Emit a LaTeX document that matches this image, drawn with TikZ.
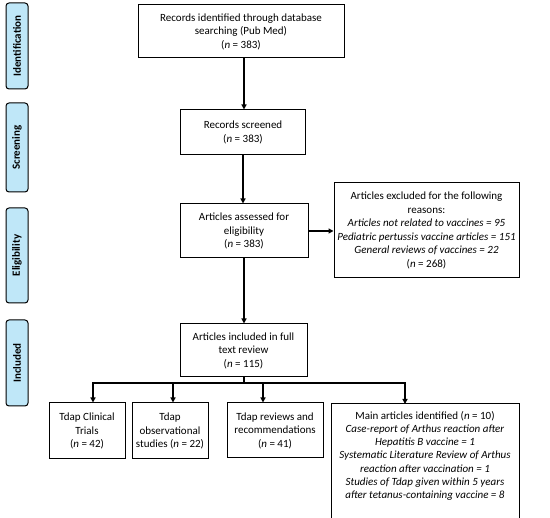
\documentclass[tikz,border=0pt]{standalone}
\usepackage{fontspec}
\setmainfont{Carlito}
\usetikzlibrary{arrows.meta}
\definecolor{phase}{HTML}{BFE7F8}
\tikzset{
  box/.style={draw, line width=1pt, fill=white, align=center, inner sep=2pt, font=\fontsize{11}{13.5}\selectfont},
  phasebox/.style={draw, line width=1pt, fill=phase, rounded corners=3pt, rotate=90, minimum height=22pt, inner sep=0pt, font=\fontsize{11}{12}\selectfont\bfseries},
  arr/.style={line width=1.2pt, -{Triangle[length=5pt,width=5pt]}},
  ln/.style={line width=1.2pt}
}
\begin{document}
\begin{tikzpicture}[x=1pt,y=-1pt]
\useasboundingbox (0,0) rectangle (550,518);
% phase labels
\node[phasebox, minimum width=86pt] (pid) at (17,46) {Identification};
\node[phasebox, minimum width=89pt] (psc) at (17,147.5) {Screening};
\node[phasebox, minimum width=95pt] (pel) at (17,255.5) {Eligibility};
\node[phasebox, minimum width=86pt] (pin) at (17,363) {Included};
% main boxes
\node[box, minimum width=206pt, minimum height=53pt] (b1) at (241,31.5) {Records identified through database\\searching (Pub Med)\\(\textit{n} = 383)};
\node[box, minimum width=125pt, minimum height=45pt] (b2) at (243,132.5) {Records screened\\(\textit{n} = 383)};
\node[box, minimum width=128pt, minimum height=54pt] (b3) at (244,231) {Articles assessed for\\eligibility\\(\textit{n} = 383)};
\node[box, minimum width=185pt, minimum height=95pt] (ex) at (426.5,230.5) {Articles excluded for the following\\reasons:\\\textit{Articles not related to vaccines = 95}\\\textit{Pediatric pertussis vaccine articles = 151}\\\textit{General reviews of vaccines = 22}\\(\textit{n} = 268)};
\node[box, minimum width=127pt, minimum height=53pt] (b4) at (243.5,350.5) {Articles included in full\\text review\\(\textit{n} = 115)};
% bottom boxes
\node[box, minimum width=76pt, minimum height=56pt] (c1) at (87,431) {Tdap Clinical\\Trials\\(\textit{n} = 42)};
\node[box, minimum width=76pt, minimum height=56pt] (c2) at (170,431) {Tdap\\observational\\studies (\textit{n} = 22)};
\node[box, minimum width=96pt, minimum height=55pt] (c3) at (275,430.5) {Tdap reviews and\\recommendations\\(\textit{n} = 41)};
\draw[line width=1pt] (331,520) -- (331,404) -- (519,404) -- (519,520);
\node[align=center, anchor=north, inner sep=0pt, font=\fontsize{11}{13.2}\selectfont] (c4) at (425,411) {Main articles identified (\textit{n} = 10)\\\textit{Case-report of Arthus reaction after}\\\textit{Hepatitis B vaccine = 1}\\\textit{Systematic Literature Review of Arthus}\\\textit{reaction after vaccination = 1}\\\textit{Studies of Tdap given within 5 years}\\\textit{after tetanus-containing vaccine = 8}};
\coordinate (c4top) at (405,404);
% connectors
\draw[arr] ([xshift=3pt]b1.south) -- ([xshift=3pt]b1.south |- b2.north);
\draw[arr] (b2.south) -- (b2.south |- b3.north);
\draw[arr] (b3.east) -- (b3.east -| ex.west);
\draw[arr] (b3.south) -- (b3.south |- b4.north);
\coordinate (j) at (244,383);
\draw[ln] (b4.south -| j) -- (j);
\draw[ln] (93,383) -- (405,383);
\draw[arr] (93,382.4) -- ([xshift=6pt]c1.north);
\draw[arr] (173,382.4) -- ([xshift=3pt]c2.north);
\draw[arr] (263,382.4) -- ([xshift=-12pt]c3.north);
\draw[arr] (405,382.4) -- (c4top);
\end{tikzpicture}
\end{document}
